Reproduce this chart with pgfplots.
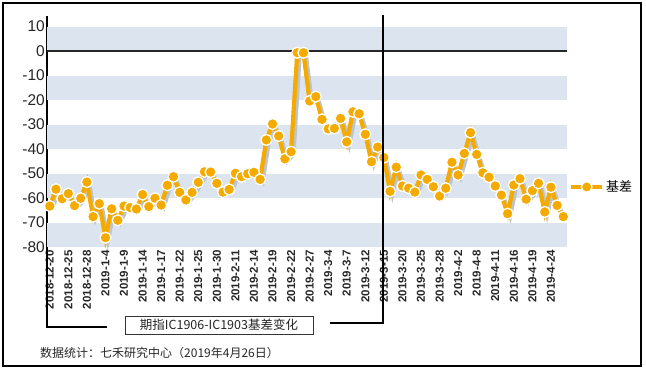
\documentclass[border=0pt]{standalone}
\usepackage{pgfplots}
\pgfplotsset{compat=1.18}
\usepackage{fontspec}
\setmainfont{Liberation Sans}
\newfontfamily\cjk{Noto Sans CJK SC}
\definecolor{band}{RGB}{219,228,239}
\definecolor{org}{RGB}{245,170,0}
\definecolor{shadow}{RGB}{190,196,204}
\pgfplotstableread{
i v
0 -63.3
1 -56.4
2 -60.3
3 -58.2
4 -63.1
5 -60.1
6 -53.5
7 -67.6
8 -62.3
9 -76.2
10 -64.4
11 -69.1
12 -63.3
13 -63.9
14 -64.5
15 -58.6
16 -63.5
17 -60.1
18 -62.9
19 -54.8
20 -51.3
21 -57.7
22 -60.8
23 -57.7
24 -53.6
25 -49.3
26 -49.4
27 -54.0
28 -57.6
29 -56.5
30 -49.9
31 -51.3
32 -50.1
33 -49.5
34 -52.4
35 -36.3
36 -29.8
37 -34.7
38 -44.0
39 -41.1
40 -0.7
41 -0.7
42 -20.4
43 -18.6
44 -27.9
45 -31.8
46 -31.6
47 -27.5
48 -37.1
49 -24.8
50 -25.6
51 -34.0
52 -45.2
53 -39.2
54 -43.5
55 -57.3
56 -47.4
57 -55.1
58 -56.0
59 -57.6
60 -50.6
61 -52.4
62 -55.4
63 -59.2
64 -56.0
65 -45.4
66 -50.6
67 -41.8
68 -33.3
69 -42.2
70 -49.7
71 -51.5
72 -55.1
73 -58.8
74 -66.4
75 -54.7
76 -52.1
77 -60.5
78 -57.0
79 -54.0
80 -65.7
81 -55.6
82 -63.0
83 -67.6
}\datatable
\begin{document}
\begin{tikzpicture}
\path[use as bounding box] (0bp,0bp) rectangle (646bp,371bp);
\draw[black, line width=1.5bp] (3bp,5bp) rectangle (641bp,368bp);
\begin{axis}[
  at={(47bp,124bp)}, anchor=south west,
  scale only axis, width=520bp, height=231bp,
  xmin=-0.45, xmax=83.6, ymin=-80, ymax=14.3,
  axis x line*=bottom, axis y line*=left,
  x axis line style={draw=none},
  y axis line style={black, line width=1.6bp},
  tick style={draw=none},
  ytick={-80,-70,...,10},
  yticklabels={-80,-70,-60,-50,-40,-30,-20,-10,0,10},
  yticklabel style={font=\fontsize{15.5bp}{16bp}\selectfont, text=black!85, inner sep=1bp, xshift=-1bp},
  xtick={0,3,...,81},
  xticklabels={2018-12-20,2018-12-25,2018-12-28,2019-1-4,2019-1-9,2019-1-14,2019-1-17,2019-1-22,2019-1-25,2019-1-30,2019-2-11,2019-2-14,2019-2-19,2019-2-22,2019-2-27,2019-3-4,2019-3-7,2019-3-12,2019-3-15,2019-3-20,2019-3-25,2019-3-28,2019-4-2,2019-4-8,2019-4-11,2019-4-16,2019-4-19,2019-4-24},
  xticklabel style={rotate=90, anchor=east, font=\bfseries\fontsize{11.5bp}{12bp}\selectfont, text=black!85, inner sep=1bp, xshift=-2bp},
  clip=false,
  legend style={at={(rel axis cs:1,0.26)}, anchor=west, draw=none, fill=none, xshift=2bp,
    font=\cjk\fontsize{13bp}{14bp}\selectfont, inner sep=0pt},
  legend cell align=left,
  legend image code/.code={
    \draw[org, line width=4bp] (0bp,0bp) -- (31bp,0bp);
    \draw[white, fill=org, line width=1.3bp] (15.5bp,0bp) circle (5.3bp);
  },
]
\fill[band] (axis cs:-0.45,0) rectangle (axis cs:83.6,10);
\fill[band] (axis cs:-0.45,-10) rectangle (axis cs:83.6,-20);
\fill[band] (axis cs:-0.45,-30) rectangle (axis cs:83.6,-40);
\fill[band] (axis cs:-0.45,-50) rectangle (axis cs:83.6,-60);
\fill[band] (axis cs:-0.45,-70) rectangle (axis cs:83.6,-80);
\draw[black!85, line width=1.4bp] (axis cs:-0.45,0) -- (axis cs:83.6,0);
\addplot[shadow, line width=4bp, xshift=2.5bp, yshift=-2.5bp, forget plot] table[x=i,y=v] {\datatable};
\addplot[org, line width=4.2bp, mark=*, mark size=5.5bp,
  mark options={draw=white, fill=org, line width=1.3bp}] table[x=i,y=v] {\datatable};
\addlegendentry{基差}
\end{axis}
% callout lines
\draw[black, line width=1.2bp] (383bp,356bp) -- (383bp,48bp) -- (330bp,48bp);
\draw[black, line width=1.2bp] (47bp,124bp) -- (47bp,44bp) -- (107bp,44bp);
\draw[black!80, line width=0.8bp, fill=white] (125bp,37bp) rectangle (313bp,55bp);
\node[font=\cjk\fontsize{12.5bp}{13bp}\selectfont, text=black!85] at (219bp,46bp) {期指IC1906-IC1903基差变化};
\node[anchor=west, font=\cjk\fontsize{12bp}{13bp}\selectfont, text=black!85, inner sep=0pt] at (40bp,18bp) {数据统计：七禾研究中心（2019年4月26日）};
\end{tikzpicture}
\end{document}
